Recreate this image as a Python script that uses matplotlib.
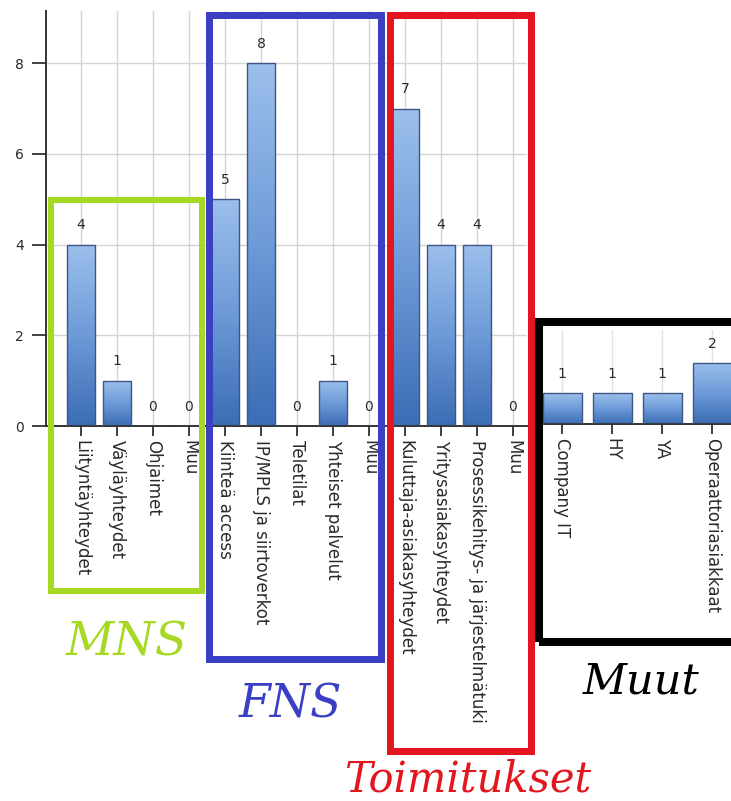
import numpy as np
import matplotlib
matplotlib.use("Agg")
import matplotlib.pyplot as plt
from matplotlib.colors import LinearSegmentedColormap
from matplotlib.patches import Rectangle

# Data
main_labels = ["Liityntäyhteydet", "Väyläyhteydet", "Ohjaimet", "Muu",
               "Kiinteä access", "IP/MPLS ja siirtoverkot", "Teletilat",
               "Yhteiset palvelut", "Muu",
               "Kuluttaja-asiakasyhteydet", "Yritysasiakasyhteydet",
               "Prosessikehitys- ja järjestelmätuki", "Muu"]
main_values = [4, 1, 0, 0, 5, 8, 0, 1, 0, 7, 4, 4, 0]

other_labels = ["Company IT", "HY", "YA", "Operaattoriasiakkaat"]
other_values = [1, 1, 1, 2]

group_names = ["MNS", "FNS", "Toimitukset", "Muut"]
group_colors = ["#a6d824", "#3b3fc4", "#e3161f", "#000000"]

W, H = 731, 801
fig = plt.figure(figsize=(W / 100, H / 100), dpi=100)
fig.patch.set_facecolor("white")


def fx(x):
    return x / W


def fy(y):
    return 1 - y / H


bar_cmap = LinearSegmentedColormap.from_list("barfill", ["#3b6db5", "#6d9ad8", "#9cc0ec"])
grad = np.linspace(0, 1, 256).reshape(-1, 1)
TEXT = "#2a2a2a"
GRID = "#d4d4d4"


def gradient_bars(ax, xs, vals, width):
    bars = ax.bar(xs, vals, width=width, facecolor="none", edgecolor="#3d5684",
                  linewidth=1.0, zorder=3)
    for b in bars:
        x0, y0 = b.get_xy()
        w, h = b.get_width(), b.get_height()
        if h <= 0:
            continue
        im = ax.imshow(grad, extent=[x0, x0 + w, y0, y0 + h], origin="lower",
                       aspect="auto", cmap=bar_cmap, zorder=2, interpolation="bilinear")
        im.set_clip_path(b)
    return bars


def style_axes(ax):
    for s in ["top", "right"]:
        ax.spines[s].set_visible(False)
    ax.spines["bottom"].set_color("#333333")
    ax.spines["bottom"].set_linewidth(1.4)
    ax.tick_params(axis="x", direction="out", length=7, width=1.3, color="#333333",
                   pad=3, labelsize=12, labelcolor=TEXT)


# Main chart
ax = fig.add_axes([fx(46), fy(426), (527 - 46) / W, (426 - 11) / H])
xs = np.arange(len(main_values))
gradient_bars(ax, xs, main_values, 0.78)
for x, v in zip(xs, main_values):
    ax.annotate(str(v), (x, v), xytext=(0, 14), textcoords="offset points",
                ha="center", va="center", fontsize=10, color=TEXT)
ax.set_xlim(-0.97, 12.39)
ax.set_ylim(0, 9.15)
ax.set_xticks(xs)
ax.set_xticklabels(main_labels, rotation=270, ha="center", va="top")
ax.set_yticks([0, 2, 4, 6, 8])
ax.grid(True, color=GRID, linewidth=1.0, zorder=0)
ax.set_axisbelow(True)
style_axes(ax)
ax.spines["left"].set_color("#333333")
ax.spines["left"].set_linewidth(1.4)
ax.tick_params(axis="y", direction="out", length=10, width=1.3, color="#333333",
               pad=6, labelsize=10, labelcolor=TEXT)

# Other customers chart
ax2 = fig.add_axes([fx(537), fy(424), 250 / W, (424 - 330) / H])
xs2 = np.arange(len(other_values))
gradient_bars(ax2, xs2, other_values, 0.78)
for x, v in zip(xs2, other_values):
    ax2.annotate(str(v), (x, v), xytext=(0, 14), textcoords="offset points",
                 ha="center", va="center", fontsize=10, color=TEXT)
ax2.set_xlim(-0.5, 4.5)
ax2.set_ylim(0, 3.08)
ax2.set_xticks(xs2)
ax2.set_xticklabels(other_labels, rotation=270, ha="center", va="top")
ax2.set_yticks([])
ax2.spines["left"].set_visible(False)
ax2.grid(True, axis="x", color="#e2e2e2", linewidth=1.0, zorder=0)
ax2.set_axisbelow(True)
ax2.patch.set_alpha(0)
style_axes(ax2)

# Group frames (x0, y0, x1, y1 in pixels from top-left)
frames = [(51, 200, 201.5, 591, 6),
          (209, 14.5, 381, 659, 7),
          (389.5, 14.5, 531, 751, 7),
          (539, 322, 770, 642, 8)]
for (x0, y0, x1, y1, lw), c in zip(frames, group_colors):
    fig.add_artist(Rectangle((fx(x0), fy(y1)), fx(x1) - fx(x0), fy(y0) - fy(y1),
                             transform=fig.transFigure, fill=False, edgecolor=c,
                             linewidth=lw * 0.72, zorder=5))

# Group titles
titles = [(127, 656, 34), (290, 717, 33), (468, 792, 30), (641, 694, 31)]
for (cx, base, size), name, c in zip(titles, group_names, group_colors):
    fig.text(fx(cx), fy(base), name, ha="center", va="baseline", fontsize=size,
             style="italic", family="DejaVu Serif", color=c)

fig.savefig("out.png", dpi=100, facecolor="white")
